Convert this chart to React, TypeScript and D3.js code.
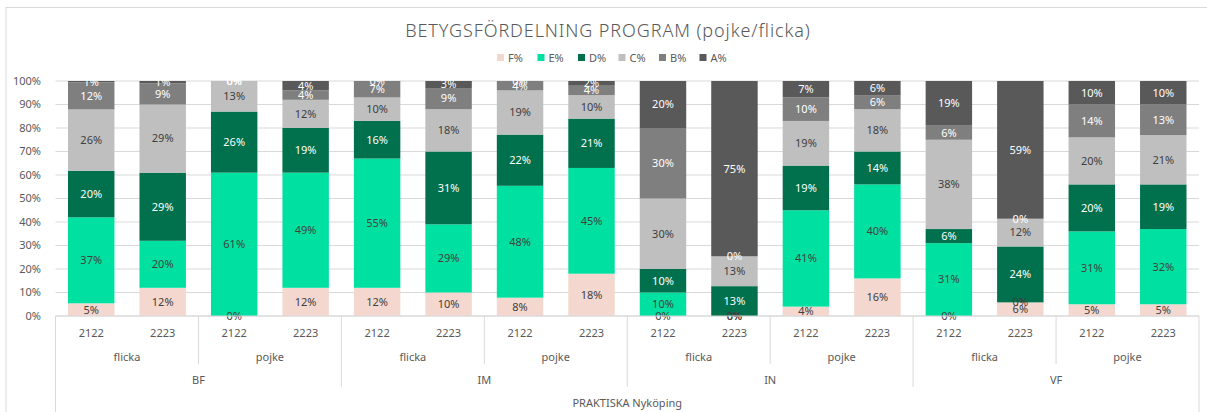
import React from 'react'
import * as d3 from 'd3'

// grade distribution per program / gender / school year
const programs = ['BF', 'IM', 'IN', 'VF']
const genders = ['flicka', 'pojke']
const years = ['2122', '2223']
const school = 'PRAKTISKA Nyköping'

const grades = ['F%', 'E%', 'D%', 'C%', 'B%', 'A%']
const fValues = [5.4, 12, 0, 12, 12, 10, 7.8, 18, 0, 0, 4, 16, 0, 5.8, 5, 5]
const eValues = [36.6, 20, 61, 49, 55, 29, 47.6, 45, 10, 0, 41, 40, 31, 0, 31, 32]
const dValues = [19.8, 29, 26, 19, 16, 31, 21.8, 21, 10, 12.7, 19, 14, 6, 23.8, 20, 19]
const cValues = [26.1, 29, 13, 12, 10, 18, 18.8, 10, 30, 12.7, 19, 18, 38, 11.8, 20, 21]
const bValues = [11.5, 9, 0, 4, 7, 9, 4, 4, 30, 0, 10, 6, 6, 0, 14, 13]
const aValues = [0.6, 1, 0, 4, 0, 3, 0, 2, 20, 74.6, 7, 6, 19, 58.6, 10, 10]

const gradeColors = ['#F4D8CF', '#00E0A0', '#00714C', '#BFBFBF', '#7F7F7F', '#595959']
const labelColors = ['#404040', '#404040', '#ffffff', '#404040', '#ffffff', '#ffffff']
const yTicks = [0, 0.1, 0.2, 0.3, 0.4, 0.5, 0.6, 0.7, 0.8, 0.9, 1]

const font = '"Century Gothic", "Noto Sans", sans-serif'
const textColor = '#595959'

const App = () => {
  const width = 1207
  const height = 412
  const left = 55.5
  const right = 1199
  const top = 81
  const bottom = 316

  const keys: string[] = []
  programs.forEach(p => genders.forEach(g => years.forEach(y => keys.push(`${p}|${g}|${y}`))))

  const series = [fValues, eValues, dValues, cValues, bValues, aValues]
  const rows = keys.map((k, i) => {
    const r: any = { key: k }
    grades.forEach((g, j) => { r[g] = series[j][i] / 100 })
    return r
  })
  const stacked = d3.stack<any>().keys(grades)(rows)

  const x = d3.scaleBand().domain(keys).range([left, right]).paddingInner(0.35).paddingOuter(0.175)
  const step = x.step()
  const y = d3.scaleLinear().domain([0, 1]).range([bottom, top])
  const pct = d3.format('.0%')

  // group spans on the category axis
  const genderGroups: { label: string, x0: number, x1: number }[] = []
  const programGroups: { label: string, x0: number, x1: number }[] = []
  programs.forEach((p, pi) => {
    const px0 = left + pi * step * 4
    programGroups.push({ label: p, x0: px0, x1: px0 + step * 4 })
    genders.forEach((g, gi) => {
      const gx0 = px0 + gi * step * 2
      genderGroups.push({ label: g, x0: gx0, x1: gx0 + step * 2 })
    })
  })

  const legendX = 497
  const legendGap = 40.5

  return (
    <svg width={width} height={height} style={{ position: 'absolute', left: 0, top: 0, background: '#fff' }} fontFamily={font}>
      <rect x={6} y={7.5} width={width} height={height} fill="none" stroke="#D9D9D9" />
      <text x={608} y={37} textAnchor="middle" fontSize={18} letterSpacing={0.9} fontWeight={300} fill={textColor}>BETYGSFÖRDELNING PROGRAM (pojke/flicka)</text>

      {grades.map((g, i) => (
        <g key={g} transform={`translate(${legendX + i * legendGap},58)`}>
          <rect x={0} y={-4} width={7} height={7} fill={gradeColors[i]} />
          <text x={11} y={0} dy="0.35em" fontSize={11} fill={textColor}>{g}</text>
        </g>
      ))}

      {yTicks.map(t => (
        <g key={t}>
          <line x1={left} x2={right} y1={y(t)} y2={y(t)} stroke="#D9D9D9" strokeWidth={1} />
          <text x={41} y={y(t)} dy="0.35em" textAnchor="end" fontSize={11} fill={textColor}>{pct(t)}</text>
        </g>
      ))}

      {stacked.map((s, si) => (
        <g key={s.key} fill={gradeColors[si]}>
          {s.map(d => (
            <rect key={d.data.key} x={x(d.data.key)} width={x.bandwidth()} y={y(d[1])} height={y(d[0]) - y(d[1])} />
          ))}
        </g>
      ))}

      {stacked.map((s, si) => (
        <g key={s.key + 'l'}>
          {s.map(d => (
            <text key={d.data.key} x={(x(d.data.key) as number) + x.bandwidth() / 2} y={(y(d[0]) + y(d[1])) / 2}
              dy="0.35em" textAnchor="middle" fontSize={11} fill={labelColors[si]}>
              {pct(d[1] - d[0])}
            </text>
          ))}
        </g>
      ))}

      {/* multi-level category axis */}
      <line x1={left} x2={right} y1={bottom} y2={bottom} stroke="#D9D9D9" />
      <line x1={left} x2={left} y1={bottom} y2={height} stroke="#D9D9D9" />
      <line x1={right} x2={right} y1={bottom} y2={height} stroke="#D9D9D9" />
      {genderGroups.filter((_, i) => i % 2 === 1).map((g, i) => (
        <line key={'gs' + i} x1={g.x0} x2={g.x0} y1={bottom} y2={364} stroke="#D9D9D9" />
      ))}
      {programGroups.slice(1).map((p, i) => (
        <line key={'ps' + i} x1={p.x0} x2={p.x0} y1={bottom} y2={387} stroke="#D9D9D9" />
      ))}
      {keys.map(k => (
        <text key={'yl' + k} x={(x(k) as number) + x.bandwidth() / 2} y={333} dy="0.35em" textAnchor="middle" fontSize={11} fill={textColor}>
          {k.split('|')[2]}
        </text>
      ))}
      {genderGroups.map((g, i) => (
        <text key={'gl' + i} x={(g.x0 + g.x1) / 2} y={357} dy="0.35em" textAnchor="middle" fontSize={11} fill={textColor}>{g.label}</text>
      ))}
      {programGroups.map((p, i) => (
        <text key={'pl' + i} x={(p.x0 + p.x1) / 2} y={380} dy="0.35em" textAnchor="middle" fontSize={11} fill={textColor}>{p.label}</text>
      ))}
      <text x={(left + right) / 2} y={403} dy="0.35em" textAnchor="middle" fontSize={11} fill={textColor}>{school}</text>
    </svg>
  )
}

export default App
